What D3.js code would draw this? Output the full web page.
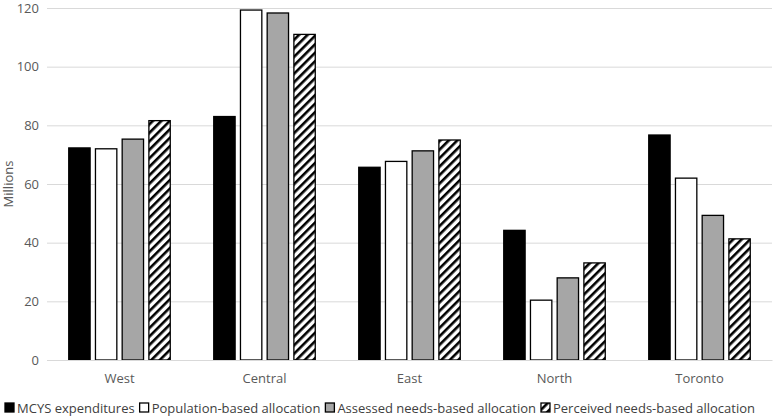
<!DOCTYPE html>
<html lang="en">
<head>
<meta charset="utf-8">
<script src="https://d3js.org/d3.v7.min.js"></script>
<style>
  body { margin: 0; background: #fff; }
  text { font-family: "Open Sans", "DejaVu Sans", sans-serif; }
</style>
</head>
<body>
<div id="chart"></div>
<script>
// data
const regions = ["West", "Central", "East", "North", "Toronto"];
const seriesNames = ["MCYS expenditures", "Population-based allocation",
                     "Assessed needs-based allocation", "Perceived needs-based allocation"];
const mcys      = [72.3, 83.0, 65.7, 44.2, 76.7];
const population = [72.0, 119.3, 67.7, 20.4, 62.0];
const assessed  = [75.3, 118.3, 71.3, 28.0, 49.3];
const perceived = [81.6, 111.0, 75.0, 33.1, 41.3];
const yTicks = [0, 20, 40, 60, 80, 100, 120];

const W = 780, H = 420;
const margin = {top: 8, right: 8, bottom: 60, left: 47};
const width = W - margin.left - margin.right,
      height = H - margin.top - margin.bottom;

const svg = d3.select("#chart").append("svg")
  .attr("width", W).attr("height", H);

// hatch pattern
const defs = svg.append("defs");
const pat = defs.append("pattern")
  .attr("id", "hatch")
  .attr("patternUnits", "userSpaceOnUse")
  .attr("width", 6).attr("height", 6)
  .attr("patternTransform", "rotate(45)");
pat.append("rect").attr("width", 6).attr("height", 6).attr("fill", "#fff");
pat.append("rect").attr("x", 0).attr("width", 2.6).attr("height", 6).attr("fill", "#000");

const fills = ["#000", "#fff", "#a6a6a6", "url(#hatch)"];

const g = svg.append("g").attr("transform", `translate(${margin.left},${margin.top})`);

const x0 = d3.scaleBand().domain(regions).range([0, width]).paddingInner(0.3).paddingOuter(0.15);
const x1 = d3.scaleBand().domain(d3.range(4)).range([0, x0.bandwidth()]).paddingInner(0.2);
const y = d3.scaleLinear().domain([0, 120]).range([height, 0]);

// gridlines
g.append("g")
  .call(d3.axisLeft(y).tickValues(yTicks).tickSize(-width).tickFormat(""))
  .call(s => s.select(".domain").remove())
  .selectAll("line").attr("stroke", "#d9d9d9").attr("stroke-width", 1);

// y tick labels
g.append("g")
  .call(d3.axisLeft(y).tickValues(yTicks).tickSize(0).tickPadding(8))
  .call(s => s.select(".domain").remove())
  .selectAll("text").attr("font-size", 13).attr("fill", "#595959")
  .style("font-family", "'Open Sans', sans-serif");

const table = regions.map((r, i) => ({region: r, vals: [mcys[i], population[i], assessed[i], perceived[i]]}));

g.append("g").selectAll("g")
  .data(table).join("g")
  .attr("transform", d => `translate(${x0(d.region)},0)`)
  .selectAll("rect")
  .data(d => d.vals.map((v, k) => ({k, v})))
  .join("rect")
  .attr("x", d => x1(d.k))
  .attr("y", d => y(d.v))
  .attr("width", x1.bandwidth())
  .attr("height", d => height - y(d.v))
  .attr("fill", d => fills[d.k])
  .attr("stroke", "#000")
  .attr("stroke-width", 1.3);

// x axis
g.append("g")
  .attr("transform", `translate(0,${height})`)
  .call(d3.axisBottom(x0).tickSize(0).tickPadding(14))
  .call(s => s.select(".domain").attr("stroke", "#d9d9d9"))
  .selectAll("text").attr("font-size", 13).attr("fill", "#595959")
  .style("font-family", "'Open Sans', sans-serif");

// y title
svg.append("text")
  .attr("transform", `translate(13,${margin.top + height / 2}) rotate(-90)`)
  .attr("text-anchor", "middle")
  .attr("font-size", 13).attr("fill", "#595959")
  .text("Millions");

// legend
const legend = svg.append("g").attr("transform", "translate(5,408)");
let lx = 0;
seriesNames.forEach((name, k) => {
  const item = legend.append("g").attr("transform", `translate(${lx},0)`);
  item.append("rect").attr("x", 0).attr("y", -5).attr("width", 9).attr("height", 9)
    .attr("fill", fills[k]).attr("stroke", "#000").attr("stroke-width", 1.3);
  const t = item.append("text").attr("x", 12).attr("y", 4.5)
    .attr("font-size", 13).attr("fill", "#404040").text(name);
  lx += 12 + t.node().getComputedTextLength() + 5;
});
</script>
</body>
</html>
